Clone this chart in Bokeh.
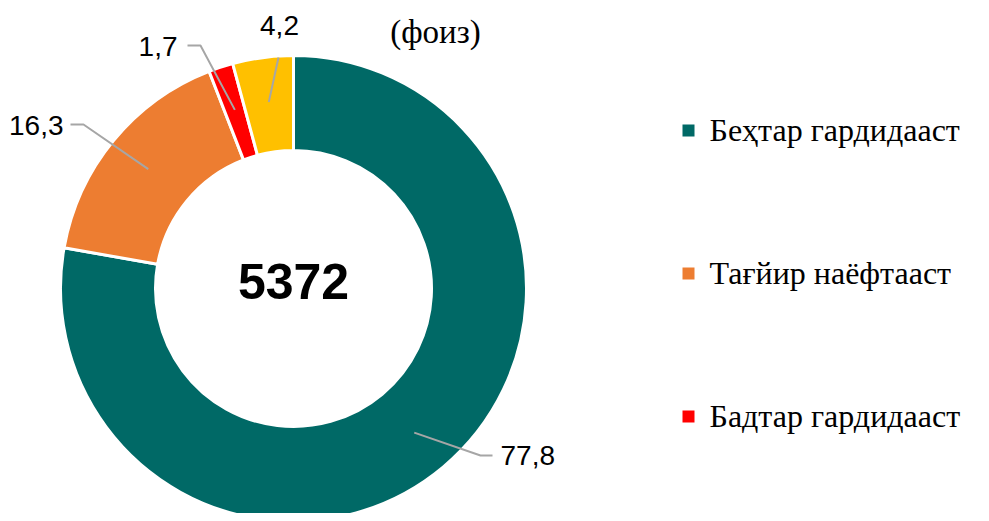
import math
from bokeh.plotting import figure
from bokeh.models import Range1d
from bokeh.core.properties import value
from bokeh.embed import file_html
from bokeh.resources import INLINE

# ---- data ----
categories = ["Беҳтар гардидааст", "Тағйир наёфтааст", "Бадтар гардидааст", "Бетағйир"]
shares = [77.8, 16.3, 1.7, 4.2]
share_labels = ["77,8", "16,3", "1,7", "4,2"]
total_label = "5372"
colors = ["#006966", "#ED7D31", "#FF0000", "#FFC000"]
legend_count = 3  # the fourth legend entry falls outside the visible area

# ---- layout (pixel coordinates of the picture, y downward) ----
W, H = 981, 513
def Y(sy):
    return H - sy

cx, cy = 293, Y(288)
r_out, r_in = 233, 138
r_anchor = 188
# label placement: (elbow x, elbow y, end x, end y, text x, text middle y, align)
label_layout = [
    (480, 455, 492, 455, 500, 455, "left"),
    (83, 124, 70, 124, 63, 125, "right"),
    (200, 45, 187, 45, 177, 46, "right"),
    (278, 57, 278, 57, 279, 25, "center"),
]

p = figure(width=W, height=H, x_range=Range1d(0, W), y_range=Range1d(0, H),
           output_backend="svg", toolbar_location=None, min_border=0)
p.axis.visible = False
p.grid.visible = False
p.outline_line_color = None
p.background_fill_color = "white"

# ---- donut ----
total = sum(shares)
starts, ends, mids = [], [], []
cum = 0.0
for s in shares:
    a0 = 90 - cum / total * 360
    cum += s
    a1 = 90 - cum / total * 360
    starts.append(math.radians(a0))
    ends.append(math.radians(a1))
    mids.append(math.radians((a0 + a1) / 2))

p.annular_wedge(x=[cx] * len(shares), y=[cy] * len(shares), inner_radius=r_in, outer_radius=r_out,
                start_angle=starts, end_angle=ends, direction="clock",
                fill_color=colors, line_color="white", line_width=3)

# ---- leader lines and labels ----
for i, m in enumerate(mids):
    ax = cx + r_anchor * math.cos(m)
    ay = cy + r_anchor * math.sin(m)
    ex, ey, tx, ty, lx, ly, al = label_layout[i]
    p.line(x=[ax, ex, tx], y=[ay, Y(ey), Y(ty)], line_color="#A6A6A6", line_width=2)
    p.text(x=[lx], y=[Y(ly)], text=[share_labels[i]], text_align=al, text_baseline="middle",
           text_font=value("Liberation Sans"), text_font_size="28px", text_color="black")

# ---- centre total ----
p.text(x=[cx], y=[Y(281)], text=[total_label], text_align="center", text_baseline="middle",
       text_font=value("Liberation Sans"), text_font_style="bold", text_font_size="50px",
       text_color="black")

# ---- title (second line visible) ----
p.text(x=[435], y=[Y(31)], text=["(фоиз)"], text_align="center", text_baseline="middle",
       text_font=value("Liberation Serif"), text_font_size="33px", text_color="black")

# ---- legend ----
leg_y = [130, 273, 416]
p.scatter(x=[688] * legend_count, y=[Y(v) for v in leg_y], marker="square", size=12,
          fill_color=colors[:legend_count], line_color=None)
p.text(x=[709] * legend_count, y=[Y(v - 1) for v in leg_y], text=categories[:legend_count],
       text_align="left", text_baseline="middle", text_font=value("Liberation Serif"),
       text_font_size="32px", text_color="black")

open("out.html", "w").write(file_html(p, INLINE))
